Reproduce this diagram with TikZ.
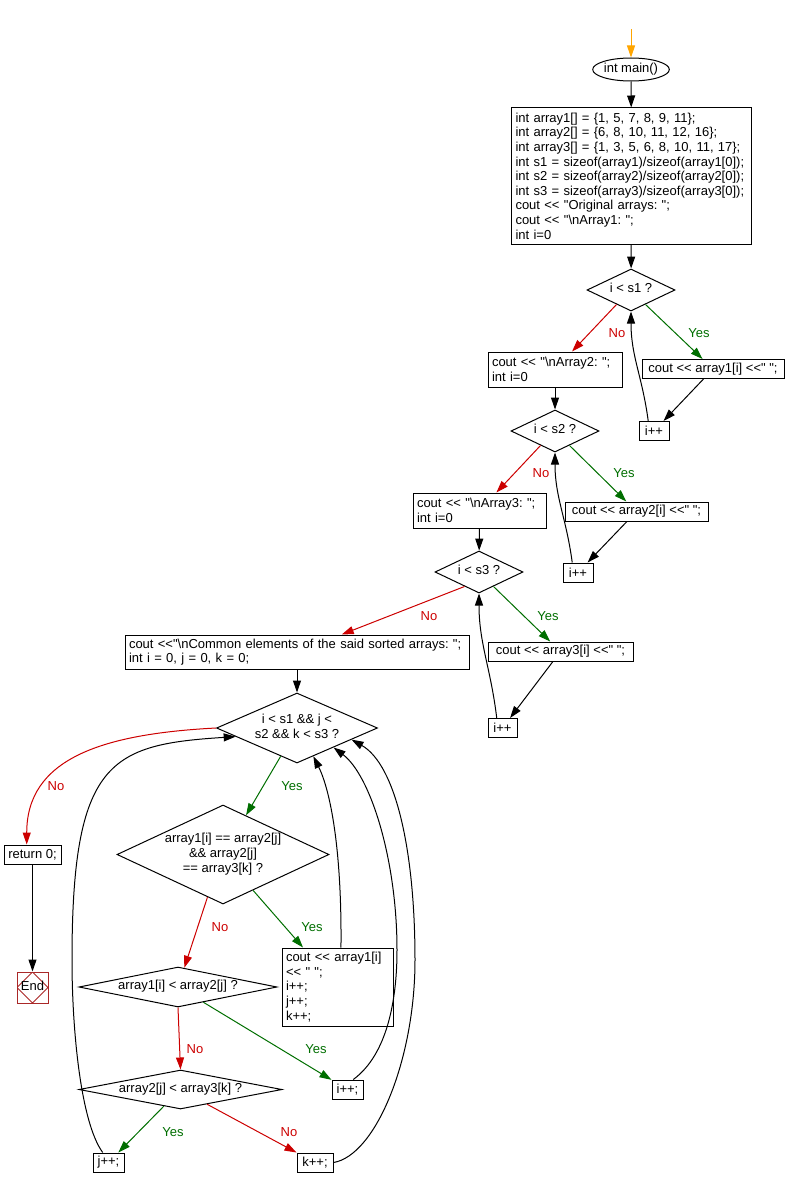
\documentclass[tikz,border=0pt]{standalone}
\usepackage{fontspec}
\setmainfont{Liberation Sans}[Ligatures=TeXOff]
\usepackage{xcolor}
\usepackage{tikz}
\usetikzlibrary{arrows.meta,shapes.geometric}
\definecolor{noRed}{RGB}{204,0,0}
\definecolor{yesGreen}{RGB}{0,110,0}
\definecolor{startOrange}{RGB}{255,165,0}
\definecolor{endRed}{RGB}{170,40,40}
\newcommand{\flowfont}{\fontsize{13}{14.6}\selectfont\frenchspacing}
\newcommand{\ctext}[1]{\makebox[0pt]{\begin{tabular}{@{}c@{}}#1\end{tabular}}}
\tikzset{
  block/.style={draw, line width=1pt, align=left, inner xsep=4pt, inner ysep=2pt, font=\flowfont},
  stmt/.style={draw, line width=1pt, inner sep=1pt, minimum height=19pt, font=\flowfont},
  cond/.style={diamond, draw, line width=1pt, inner sep=0pt, font=\flowfont},
  term/.style={ellipse, draw, line width=1pt, inner sep=0pt, minimum width=71pt, minimum height=23pt, font=\flowfont},
  endbox/.style={draw=endRed, line width=1pt, minimum size=31pt, inner sep=0pt, font=\flowfont,
    path picture={\draw[endRed, line width=1pt] (path picture bounding box.north) -- (path picture bounding box.east)
      -- (path picture bounding box.south) -- (path picture bounding box.west) -- cycle;}},
  arr/.style={-{Triangle[length=12pt,width=8pt]}, line width=1pt},
  yesarr/.style={arr, draw=yesGreen},
  noarr/.style={arr, draw=noRed},
  yeslbl/.style={text=yesGreen, font=\flowfont, inner sep=0pt},
  nolbl/.style={text=noRed, font=\flowfont, inner sep=0pt},
}
\begin{document}
\begin{tikzpicture}[x=1pt, y=-1pt]
  \useasboundingbox (0,0) rectangle (786,1188);

  % first part: print the three arrays
  \coordinate (start) at (631,29);
  \node[term] (main) at (631,69.5) {int main()};
  \node[block, text width=232pt, minimum height=136pt] (init) at (631.5,176) {int array1[] = \{1, 5, 7, 8, 9, 11\};\\int array2[] = \{6, 8, 10, 11, 12, 16\};\\int array3[] = \{1, 3, 5, 6, 8, 10, 11, 17\};\\int s1 = sizeof(array1)/sizeof(array1[0]);\\int s2 = sizeof(array2)/sizeof(array2[0]);\\int s3 = sizeof(array3)/sizeof(array3[0]);\\cout << "Original arrays: ";\\cout << "\textbackslash nArray1: ";\\int i=0};
  \node[cond, minimum width=88pt, minimum height=42pt] (d1) at (631,290) {\ctext{i < s1 ?}};
  \node[stmt, minimum width=142pt] (cout1) at (713,369) {cout << array1[i] <<" ";};
  \node[block, text width=126pt, minimum height=35pt] (arr2) at (555,369.5) {cout << "\textbackslash nArray2: ";\\int i=0};
  \node[stmt, minimum width=30pt] (inc1) at (654,431) {i++};
  \node[cond, minimum width=88pt, minimum height=42pt] (d2) at (555,431) {\ctext{i < s2 ?}};
  \node[stmt, minimum width=143pt] (cout2) at (636.5,511.5) {cout << array2[i] <<" ";};
  \node[block, text width=125pt, minimum height=35pt] (arr3) at (479.5,510.5) {cout << "\textbackslash nArray3: ";\\int i=0};
  \node[stmt, minimum width=30pt] (inc2) at (578,572.5) {i++};
  \node[cond, minimum width=88pt, minimum height=42pt] (d3) at (479,572) {\ctext{i < s3 ?}};
  \node[stmt, minimum width=145pt] (cout3) at (560.5,651.5) {cout << array3[i] <<" ";};
  \node[block, text width=336pt, minimum height=34pt] (common) at (297,652) {cout <<"\textbackslash nCommon elements of the said sorted arrays: ";\\int i = 0, j = 0, k = 0;};
  \node[stmt, minimum width=29pt] (inc3) at (502.5,728) {i++};

  % second part: walk the arrays together
  \node[cond, minimum width=161pt, minimum height=70pt] (loop) at (297,728) {\ctext{i < s1 \&\& j <\\s2 \&\& k < s3 ?}};
  \node[stmt, minimum width=57pt] (ret) at (32.5,854.5) {return 0;};
  \node[endbox] (end) at (32.5,987.5) {\ctext{End}};
  \node[cond, minimum width=212pt, minimum height=99pt] (same) at (223,854.5) {\ctext{array1[i] == array2[j]\\\&\& array2[j]\\== array3[k] ?}};
  \node[block, text width=103pt, minimum height=78pt] (hit) at (337.5,987) {cout << array1[i]\\<< " ";\\i++;\\j++;\\k++;};
  \node[cond, minimum width=198pt, minimum height=40pt] (lt12) at (178,987) {\ctext{array1[i] < array2[j] ?}};
  \node[stmt, minimum width=31pt] (inci) at (347.5,1089.5) {i++;};
  \node[cond, minimum width=203pt, minimum height=39pt] (lt23) at (180.5,1089.5) {\ctext{array2[j] < array3[k] ?}};
  \node[stmt, minimum width=31pt] (incj) at (108.5,1162.5) {j++;};
  \node[stmt, minimum width=36pt] (inck) at (315,1162.5) {k++;};

  % labels
  \node[nolbl] (no1) at (617,333) {No};
  \node[yeslbl] (yes1) at (699,333) {Yes};
  \node[nolbl] (no2) at (541,473) {No};
  \node[yeslbl] (yes2) at (624,473) {Yes};
  \node[nolbl] (no3) at (429,616) {No};
  \node[yeslbl] (yes3) at (548,616) {Yes};
  \node[nolbl] (no4) at (56,786) {No};
  \node[yeslbl] (yes4) at (292,786) {Yes};
  \node[nolbl] (no5) at (220,927) {No};
  \node[yeslbl] (yes5) at (312,927) {Yes};
  \node[nolbl] (no6) at (195,1049) {No};
  \node[yeslbl] (yes6) at (316,1049) {Yes};
  \node[yeslbl] (yes7) at (173,1132) {Yes};
  \node[nolbl] (no7) at (289,1132) {No};

  % connectors
  \draw[arr, draw=startOrange] (start) -- (main);
  \draw[arr] (main) -- (init);
  \draw[arr] (init) -- (d1);
  \draw[yesarr] (d1.-45) -- (cout1);
  \draw[noarr] (d1.-135) -- (arr2);
  \draw[arr] (cout1) -- (inc1);
  \draw[arr] (inc1.120) .. controls +(-6,-45) and +(0,45) .. (d1.south);
  \draw[arr] (arr2) -- (d2);
  \draw[yesarr] (d2.-45) -- (cout2);
  \draw[noarr] (d2.-135) -- (arr3);
  \draw[arr] (cout2) -- (inc2);
  \draw[arr] (inc2.120) .. controls +(-6,-45) and +(0,45) .. (d2.south);
  \draw[arr] (arr3) -- (d3);
  \draw[yesarr] (d3.-45) -- (cout3);
  \draw[noarr] (d3.-135) -- (common);
  \draw[arr] (cout3) -- (inc3);
  \draw[arr] (inc3.120) .. controls +(-6,-50) and +(0,50) .. (d3.south);
  \draw[arr] (common) -- (loop);
  \draw[noarr] (loop.west) .. controls +(-116,6) and +(0,-85) .. (ret.120);
  \draw[arr] (ret) -- (end);
  \draw[yesarr] (loop.-120) -- (same);
  \draw[yesarr] (same.-50) -- (hit);
  \draw[noarr] (same.-110) -- (lt12);
  \draw[arr] (hit.85) .. controls +(1,-98) and +(17,34) .. (loop.-60);
  \draw[yesarr] (lt12.-31) -- (inci);
  \draw[noarr] (lt12.south) -- (lt23.north);
  \draw[arr] (inci.60) .. controls +(34,-25) and +(0,50) .. (397,950)
    .. controls +(0,-90) and +(37,28) .. (loop.-28);
  \draw[yesarr] (lt23.-135) -- (incj);
  \draw[noarr] (lt23.-29) -- (inck);
  \draw[arr] (incj.120) .. controls +(-22,-30) and +(0,70) .. (72,960)
    .. controls +(0,-200) and +(-125,8) .. (loop.-172);
  \draw[arr] (inck.east) .. controls +(42,-7) and +(0,100) .. (415,960)
    .. controls +(0,-110) and +(44,25) .. (loop.-12);
\end{tikzpicture}
\end{document}
